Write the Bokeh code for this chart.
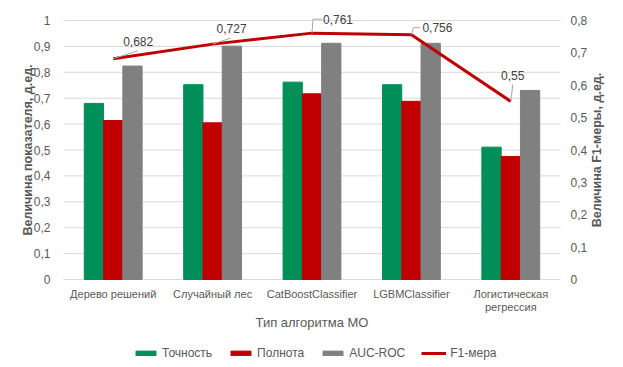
import math
from bokeh.plotting import figure
from bokeh.models import (Range1d, Legend, LegendItem, ColumnDataSource, LabelSet)
from bokeh.core.properties import value
from bokeh.embed import file_html
from bokeh.resources import INLINE

# ---- data ----
categories = ["Дерево решений", "Случайный лес", "CatBoostClassifier",
              "LGBMClassifier", "Логистическая\nрегрессия"]
accuracy = [0.68, 0.752, 0.762, 0.752, 0.511]
recall = [0.614, 0.605, 0.717, 0.688, 0.475]
auc_roc = [0.824, 0.901, 0.912, 0.912, 0.730]
f1 = [0.682, 0.727, 0.761, 0.756, 0.55]
f1_labels = ["0,682", "0,727", "0,761", "0,756", "0,55"]
left_ticks = [0, 0.1, 0.2, 0.3, 0.4, 0.5, 0.6, 0.7, 0.8, 0.9, 1.0]
left_tick_labels = ["0", "0,1", "0,2", "0,3", "0,4", "0,5", "0,6", "0,7", "0,8", "0,9", "1"]
right_ticks = [0, 0.1, 0.2, 0.3, 0.4, 0.5, 0.6, 0.7, 0.8]
right_tick_labels = ["0", "0,1", "0,2", "0,3", "0,4", "0,5", "0,6", "0,7", "0,8"]
x_title = "Тип алгоритма МО"
left_title = "Величина показателя, д.ед."
right_title = "Величина F1-меры, д.ед."

# ---- styles / layout ----
GREEN = "#008F58"
RED = "#C00000"
GRAY = "#808080"
TXT = "#595959"
GRID = "#D9D9D9"
FONT = "Liberation Sans"

W, H = 623, 367
PL, PR, PT, PB = 63, 560, 20, 279          # plot area in page pixels
n = len(categories)
ppx = (PR - PL) / n                         # px per category unit
ppy = (PB - PT) / 1.0                       # px per left-axis unit
left_max, right_max = 1.0, 0.8
x_lo, x_hi = -PL / ppx, n + (W - PR) / ppx
y_lo, y_hi = -(H - PB) / ppy, PB / ppy

p = figure(width=W, height=H, output_backend="svg", toolbar_location=None,
           x_range=Range1d(x_lo, x_hi), y_range=Range1d(y_lo, y_hi),
           x_axis_location=None, y_axis_location=None, min_border=0)
p.outline_line_color = None
p.background_fill_color = "white"
p.border_fill_color = "white"
p.grid.visible = False
p.extra_y_ranges = {"f1": Range1d(y_lo * right_max, y_hi * right_max)}

# gridlines across plot area
p.segment(x0=[0] * len(left_ticks), x1=[n] * len(left_ticks), y0=left_ticks, y1=left_ticks,
          line_color=GRID, line_width=1)

centers = [i + 0.5 for i in range(n)]
bw = 0.194
src = ColumnDataSource(dict(
    xg=[c - bw for c in centers], xr=centers, xa=[c + bw for c in centers],
    acc=accuracy, rec=recall, auc=auc_roc, xc=centers, f1=f1, lab=f1_labels))

r_acc = p.vbar(x="xg", top="acc", width=bw, source=src, fill_color=GREEN, line_color=GREEN)
r_rec = p.vbar(x="xr", top="rec", width=bw, source=src, fill_color=RED, line_color=RED)
r_auc = p.vbar(x="xa", top="auc", width=bw, source=src, fill_color=GRAY, line_color=GRAY)
r_f1 = p.line(x="xc", y="f1", source=src, y_range_name="f1", line_color=RED, line_width=3)

# leader lines for data labels (pixel offsets -> data units)
px_x = 1.0 / ppx
px_y = right_max / ppy
leader_px = [
    [(0, 0), (25, 8)],
    [(0, 0), (18, 6)],
    [(0, 0), (1, 14), (10, 14)],
    [(0, 0), (2, 7), (9, 7)],
    [(0, 0), (2, 17)],
]
lx, ly = [], []
for c, v, pts in zip(centers, f1, leader_px):
    lx.append([c + dx * px_x for dx, dy in pts])
    ly.append([v + dy * px_y for dx, dy in pts])
p.multi_line(xs=lx, ys=ly, y_range_name="f1", line_color="#A6A6A6", line_width=1)

src.data["dx"] = [25, 19, 26, 26, 2]
src.data["dy"] = [17, 16, 14, 7, 26]
p.add_layout(LabelSet(x="xc", y="f1", text="lab", source=src, y_range_name="f1",
                      x_offset="dx", y_offset="dy", text_align="center",
                      text_baseline="middle", text_font=value(FONT),
                      text_font_size="12px", text_color="#404040"))

# left axis tick labels
p.text(x=[0] * len(left_ticks), y=left_ticks, text=left_tick_labels, x_offset=-13,
       text_align="right", text_baseline="middle", text_font=value(FONT),
       text_font_size="12px", text_color=TXT)
# right axis tick labels
p.text(x=[n] * len(right_ticks), y=right_ticks, text=right_tick_labels, x_offset=10,
       y_range_name="f1", text_align="left", text_baseline="middle",
       text_font=value(FONT), text_font_size="12px", text_color=TXT)
# category labels
p.text(x=centers, y=[0] * n, text=categories, y_offset=8, text_align="center",
       text_baseline="top", text_line_height=1.1, text_font=value(FONT),
       text_font_size="11px", text_color=TXT)
# axis titles
p.text(x=[n / 2], y=[0], text=[x_title], y_offset=43, text_align="center",
       text_baseline="middle", text_font=value(FONT), text_font_size="13px",
       text_color=TXT)
p.text(x=[0], y=[left_max / 2], text=[left_title], x_offset=-36, angle=math.pi / 2,
       text_align="center", text_baseline="middle", text_font=value(FONT),
       text_font_size="12.5px", text_font_style="bold", text_color=TXT)
p.text(x=[n], y=[left_max / 2], text=[right_title], x_offset=36, angle=math.pi / 2,
       text_align="center", text_baseline="middle", text_font=value(FONT),
       text_font_size="12.5px", text_font_style="bold", text_color=TXT)

legend = Legend(items=[
    LegendItem(label="Точность", renderers=[r_acc]),
    LegendItem(label="Полнота", renderers=[r_rec]),
    LegendItem(label="AUC-ROC", renderers=[r_auc]),
    LegendItem(label="F1-мера", renderers=[r_f1]),
], orientation="horizontal", location=(133, 7))
legend.glyph_width = 25
legend.glyph_height = 6
legend.label_height = 14
legend.label_text_font = FONT
legend.label_text_font_size = "12px"
legend.label_text_color = TXT
legend.label_standoff = 4
legend.spacing = 16
legend.padding = 0
legend.margin = 0
legend.border_line_color = None
legend.background_fill_alpha = 0
p.add_layout(legend, "center")

open("out.html", "w").write(file_html(p, INLINE))
